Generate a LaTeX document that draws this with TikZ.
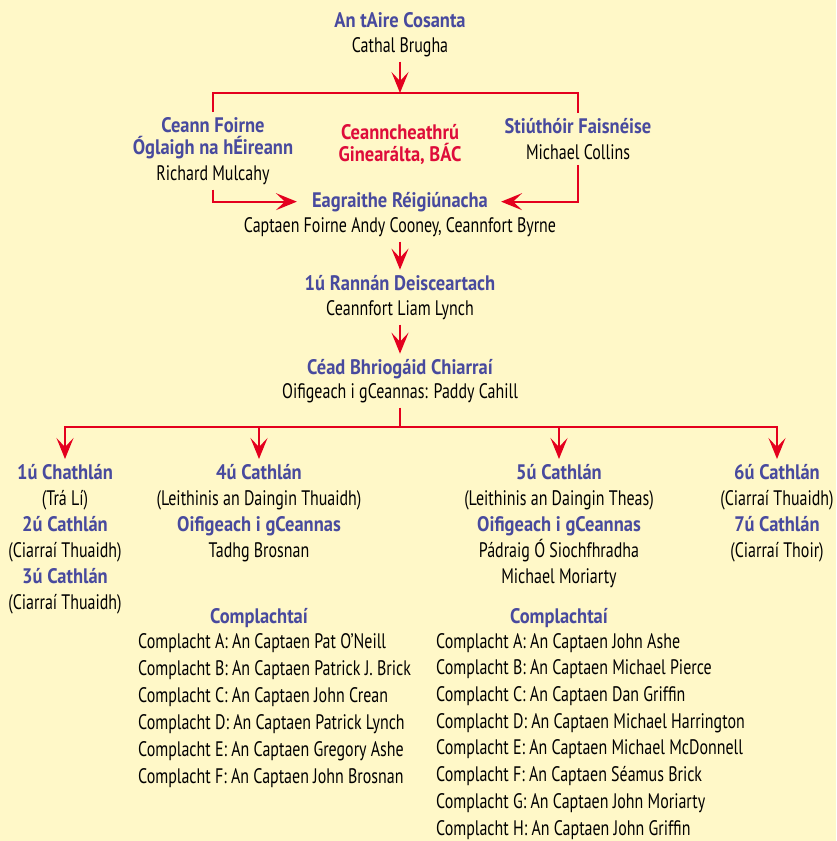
\documentclass[tikz,border=0pt]{standalone}
\usepackage{fontspec}
\setmainfont[FakeStretch=0.76,BoldFeatures={FakeStretch=0.88}]{PT Sans}
\usetikzlibrary{arrows,arrows.meta,positioning}
\definecolor{bgyellow}{RGB}{255,248,200}
\definecolor{titleblue}{RGB}{72,74,158}
\definecolor{linered}{RGB}{228,0,30}
\definecolor{hqred}{RGB}{222,12,58}

\begin{document}
\begin{tikzpicture}[x=1pt,y=-1pt]
\tikzstyle{title}=[font=\bfseries\fontsize{21}{26}\selectfont,text=titleblue,
inner sep=5pt,anchor=base]
\tikzstyle{person}=[font=\fontsize{21}{26}\selectfont,text=black,
inner sep=5pt,anchor=base]
\tikzstyle{block}=[font=\fontsize{21}{26}\selectfont,align=center,
inner sep=5pt,anchor=north]
\tikzstyle{link}=[draw=linered,line width=2pt]
\tikzstyle{redarrow}=[link,-{Stealth[length=21pt,width=17pt,inset=9pt]}]

\fill[bgyellow] (0,0) rectangle (836,841);
\useasboundingbox (0,0) rectangle (836,841);

% top of the chain
\node[title] at (400,27) (aire) {An tAire Cosanta};
\node[person] at (400,52) (brugha) {Cathal Brugha};
\coordinate (topbar) at (400,93);

\node[block] at (213,112) (foirne) {{\bfseries\color{titleblue}Ceann Foirne}\\[-4pt]
{\bfseries\color{titleblue}Óglaigh na hÉireann}\\Richard Mulcahy};
\node[font=\bfseries\fontsize{21}{26}\selectfont,text=hqred,align=center,anchor=base]
at (400,161) (hq) {Ceanncheathrú\\[-4pt]Ginearálta, BÁC};
\node[block] at (578,113) (faisneis) {{\bfseries\color{titleblue}Stiúthóir Faisnéise}\\Michael Collins};

\node[title] at (400,207) (eagraithe) {Eagraithe Réigiúnacha};
\node[person] at (400,232) (cooney) {Captaen Foirne Andy Cooney, Ceannfort Byrne};

\node[title] at (400,290) (rannan) {1ú Rannán Deisceartach};
\node[person] at (400,315) (lynch) {Ceannfort Liam Lynch};

\node[title] at (400,374) (briogaid) {Céad Bhriogáid Chiarraí};
\node[person] at (400,398) (cahill) {Oifigeach i gCeannas: Paddy Cahill};
\coordinate (botbar) at (400,427);

% battalions
\node[block] at (65,459) (cath1) {{\bfseries\color{titleblue}1ú Chathlán}\\(Trá Lí)\\
{\bfseries\color{titleblue}2ú Cathlán}\\(Ciarraí Thuaidh)\\
{\bfseries\color{titleblue}3ú Cathlán}\\(Ciarraí Thuaidh)};
\node[block] at (259,459) (cath4) {{\bfseries\color{titleblue}4ú Cathlán}\\(Leithinis an Daingin Thuaidh)\\
{\bfseries\color{titleblue}Oifigeach i gCeannas}\\Tadhg Brosnan};
\node[block] at (559,459) (cath5) {{\bfseries\color{titleblue}5ú Cathlán}\\(Leithinis an Daingin Theas)\\
{\bfseries\color{titleblue}Oifigeach i gCeannas}\\Pádraig Ó Siochfhradha\\Michael Moriarty};
\node[block] at (777,459) (cath6) {{\bfseries\color{titleblue}6ú Cathlán}\\(Ciarraí Thuaidh)\\
{\bfseries\color{titleblue}7ú Cathlán}\\(Ciarraí Thoir)};

% companies
\node[title] at (259,623) (compl4) {Complachtaí};
\node[font=\fontsize{21}{27}\selectfont,align=left,anchor=north west,inner sep=0pt]
at (138,633) (list4) {Complacht A: An Captaen Pat O’Neill\\
Complacht B: An Captaen Patrick J. Brick\\
Complacht C: An Captaen John Crean\\
Complacht D: An Captaen Patrick Lynch\\
Complacht E: An Captaen Gregory Ashe\\
Complacht F: An Captaen John Brosnan};
\node[title] at (559,623) (compl5) {Complachtaí};
\node[font=\fontsize{21}{26.7}\selectfont,align=left,anchor=north west,inner sep=0pt]
at (436,633) (list5) {Complacht A: An Captaen John Ashe\\
Complacht B: An Captaen Michael Pierce\\
Complacht C: An Captaen Dan Griffin\\
Complacht D: An Captaen Michael Harrington\\
Complacht E: An Captaen Michael McDonnell\\
Complacht F: An Captaen Séamus Brick\\
Complacht G: An Captaen John Moriarty\\
Complacht H: An Captaen John Griffin};

% connectors
\draw[redarrow] (brugha.south) -- (topbar);
\draw[link] (foirne.north) |- (topbar) -| (faisneis.north);
\draw[redarrow] (foirne.south) |- ([xshift=-10pt]eagraithe.west);
\draw[redarrow] (faisneis.south) |- ([xshift=8pt]eagraithe.east);
\draw[redarrow] (cooney.south) -- (rannan.north);
\draw[redarrow] (lynch.south) -- (briogaid.north);
\draw[link] (cahill.south) -- (botbar);
\draw[redarrow] (botbar) -| (cath1.north);
\draw[redarrow] (botbar) -| (cath4.north);
\draw[redarrow] (botbar) -| (cath5.north);
\draw[redarrow] (botbar) -| (cath6.north);

\end{tikzpicture}
\end{document}
